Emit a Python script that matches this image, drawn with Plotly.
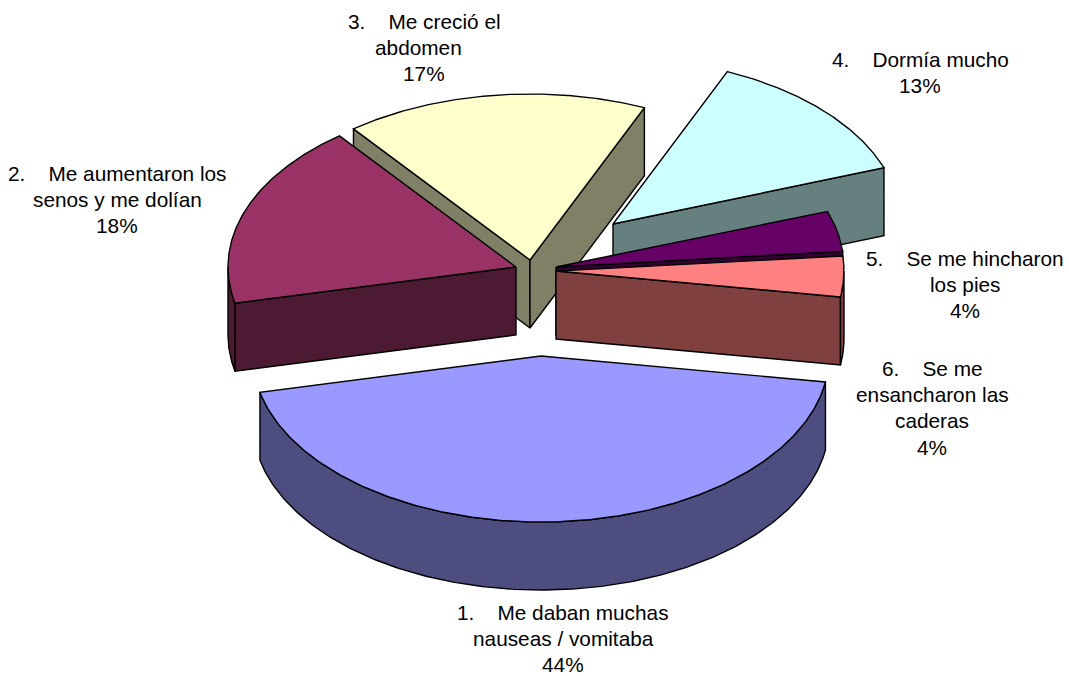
import numpy as np
import plotly.graph_objects as go

# Survey shares, in the order the slices run clockwise
categories = [
    "1. Me daban muchas nauseas / vomitaba",
    "2. Me aumentaron los senos y me dolían",
    "3. Me creció el abdomen",
    "4. Dormía mucho",
    "5. Se me hincharon los pies",
    "6. Se me ensancharon las caderas",
]
percent_values = [44, 18, 17, 13, 4, 4]

top_colors = ["#9999FF", "#993366", "#FFFFCC", "#CCFFFF", "#660066", "#FF8080"]
side_colors = ["#4D4D80", "#4D1A33", "#808066", "#668080", "#330033", "#804040"]

# Where each exploded slice has its tip on the canvas
tip_x = [541, 516, 530, 613, 556, 556]
tip_y = [356, 267, 260, 224, 267, 271]

GAP = "\u00a0\u00a0\u00a0\u00a0"
label_lines = [
    [f"1.{GAP}Me daban muchas", "nauseas / vomitaba", "44%"],
    [f"2.{GAP}Me aumentaron los", "senos y me dolían", "18%"],
    [f"3.{GAP}Me creció el", "abdomen\u00a0\u00a0", "17%"],
    [f"4.{GAP}Dormía mucho", "13%"],
    [f"5.{GAP}Se me hincharon", "los pies", "4%"],
    [f"6.{GAP}Se me", "ensancharon las", "caderas", "4%"],
]
label_x = [563, 117, 424, 920, 965, 932]
label_top_y = [612, 173, 21, 59, 258, 368]

START_DEG = -9.0   # angle at which the first slice begins
RX, RY = 288.0, 166.0  # ellipse of the tilted pie top
DEPTH = 68.0
FONT_PX = 20.8
LINE_PX = 26.4
EDGE = dict(color="#000000", width=1.4)

shares = np.array(percent_values, dtype=float)
sweeps = shares / shares.sum() * 360.0
begin_deg = START_DEG - np.concatenate(([0.0], np.cumsum(sweeps)[:-1]))
end_deg = begin_deg - sweeps


def rim(cx, cy, deg):
    rad = np.radians(deg)
    return cx + RX * np.cos(rad), cy - RY * np.sin(rad)


def add_face(fig, xs, ys, color, name):
    fig.add_trace(go.Scatter(
        x=list(xs) + [xs[0]], y=list(ys) + [ys[0]], mode="lines",
        fill="toself", fillcolor=color, line=EDGE,
        hoverinfo="text", text=name, showlegend=False,
    ))


def add_slice(fig, i):
    cx, cy = tip_x[i], tip_y[i]
    a, b = begin_deg[i], end_deg[i]
    name = categories[i]

    # Flat cut faces, kept only where they turn toward the viewer
    for deg, visible in ((a, np.cos(np.radians(a)) < 0), (b, np.cos(np.radians(b)) > 0)):
        if visible:
            ex, ey = rim(cx, cy, deg)
            add_face(fig, [cx, ex, ex, cx], [cy, ey, ey + DEPTH, cy + DEPTH],
                     side_colors[i], name)

    # Curved outer wall on the front half of the ellipse
    arc = np.linspace(a, b, 240)
    front = arc[np.sin(np.radians(arc)) <= 0]
    if front.size > 1:
        wx, wy = rim(cx, cy, front)
        add_face(fig, np.concatenate((wx, wx[::-1])),
                 np.concatenate((wy, wy[::-1] + DEPTH)), side_colors[i], name)

    # Top of the slice
    tx, ty = rim(cx, cy, arc)
    add_face(fig, np.concatenate(([cx], tx)), np.concatenate(([cy], ty)),
             top_colors[i], name)


fig = go.Figure()
for idx in (2, 3, 1, 4, 5, 0):  # painted back to front
    add_slice(fig, idx)

# One annotation per text line keeps the leading tight
for lines, x, top in zip(label_lines, label_x, label_top_y):
    for n, line in enumerate(lines):
        fig.add_annotation(x=x, y=top + n * LINE_PX, xref="x", yref="y", text=line,
                           showarrow=False, xanchor="center", yanchor="middle",
                           height=25, valign="middle",
                           font=dict(family="Liberation Sans, Arial, sans-serif",
                                     size=FONT_PX, color="#000000"))

fig.update_layout(
    width=1069, height=676, margin=dict(l=0, r=0, t=0, b=0),
    paper_bgcolor="#FFFFFF", plot_bgcolor="#FFFFFF", showlegend=False,
    xaxis=dict(range=[0, 1069], visible=False, fixedrange=True),
    yaxis=dict(range=[676, 0], visible=False, fixedrange=True),
)
fig.write_html("out.html", config={"displayModeBar": False})
